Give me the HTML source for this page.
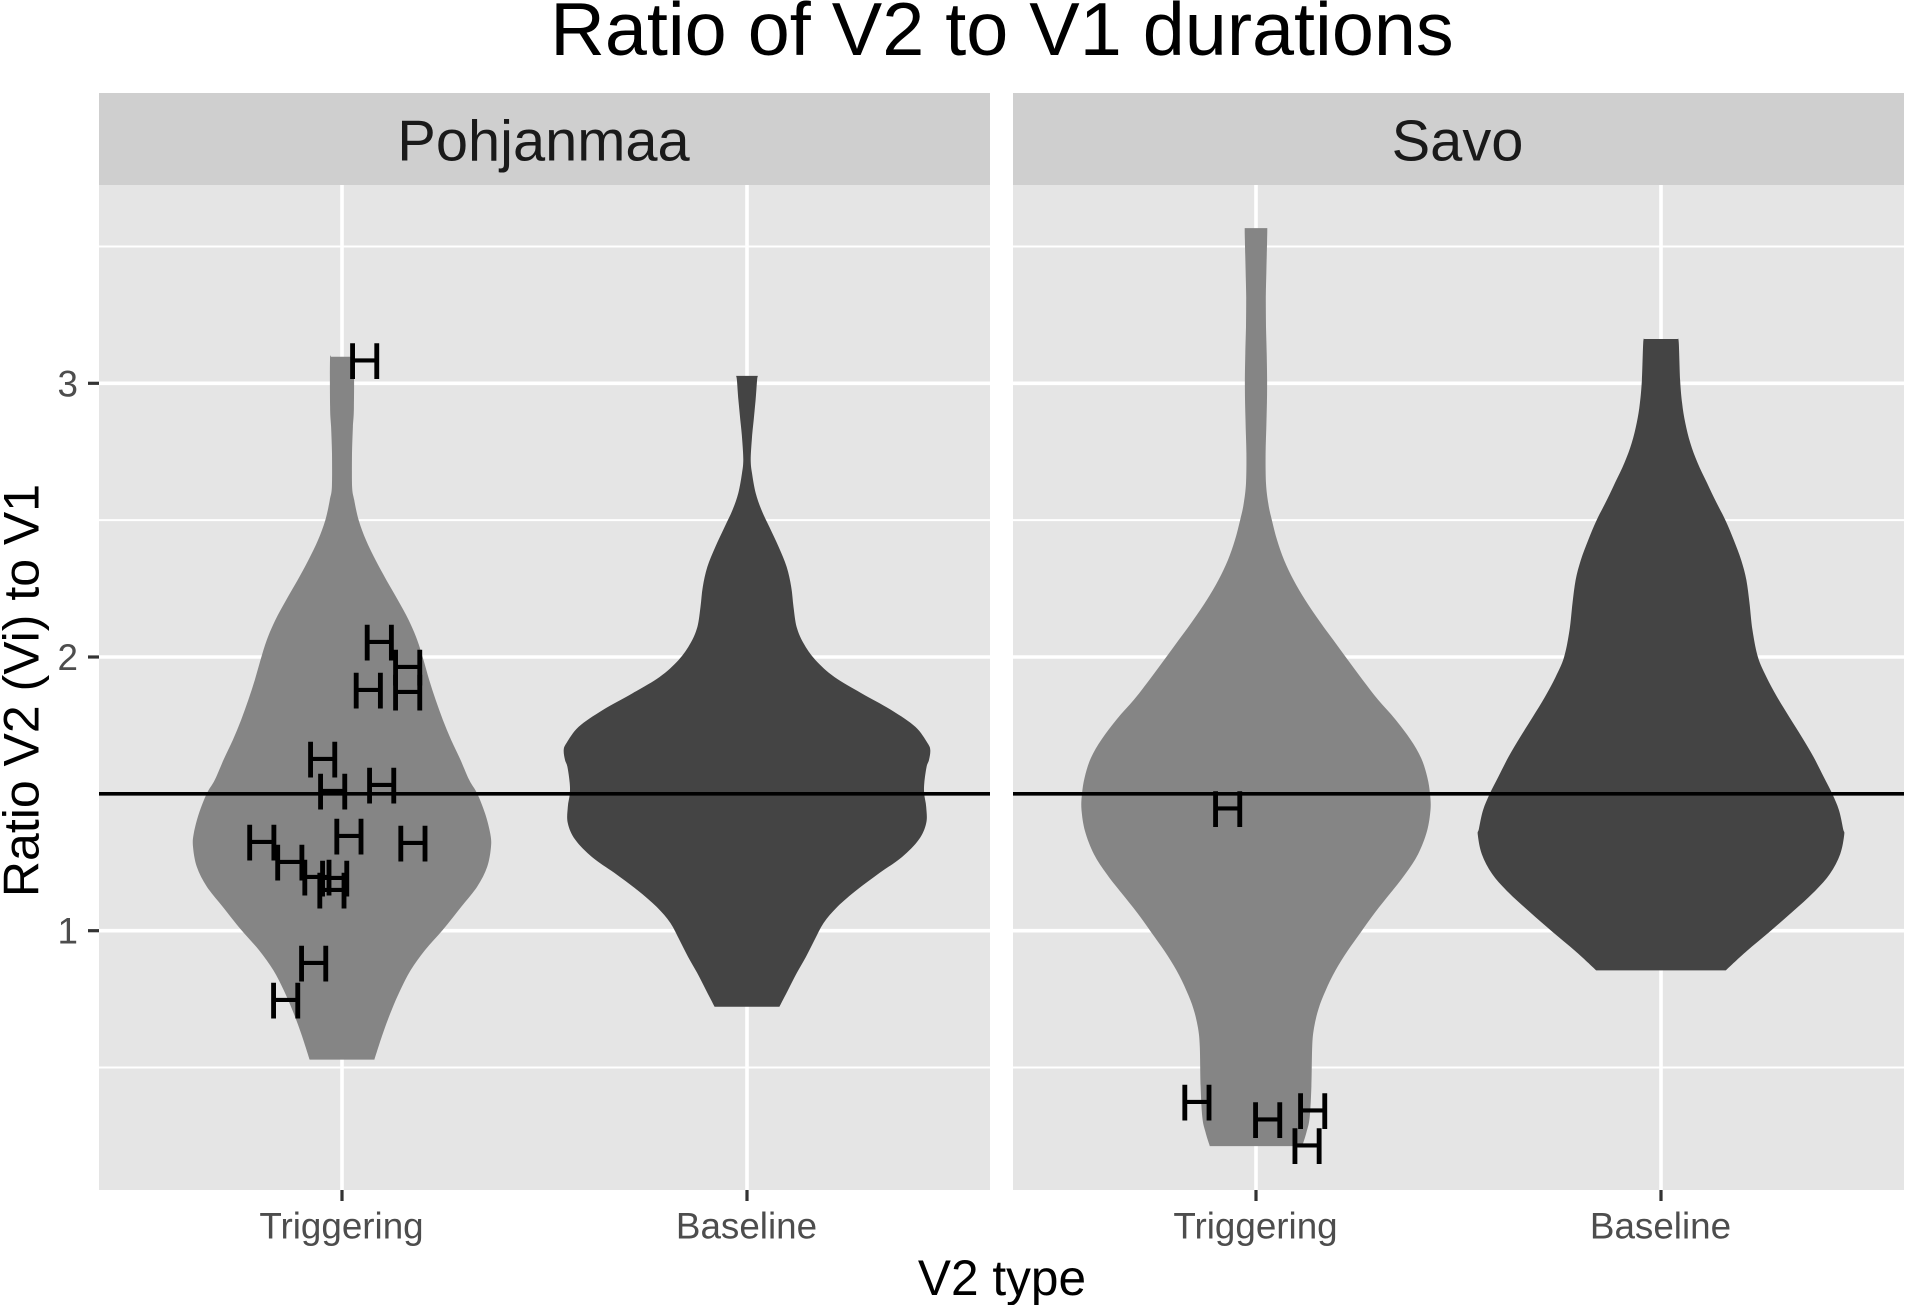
<!DOCTYPE html>
<html lang="en">
<head>
<meta charset="utf-8">
<title>Ratio of V2 to V1 durations</title>
<style>
html,body{margin:0;padding:0;background:#fff;}
svg{display:block;font-family:"Liberation Sans",Arial,sans-serif;}
</style>
</head>
<body>
<svg id="chart" xmlns="http://www.w3.org/2000/svg" width="1905" height="1305" viewBox="0 0 1905 1305">
  <text x="1002" y="55" font-size="75.6" text-anchor="middle" fill="#000">Ratio of V2 to V1 durations</text>
  <text x="1002" y="1295" font-size="49.6" text-anchor="middle" fill="#000">V2 type</text>
  <text transform="translate(38.5 690.5) rotate(-90)" font-size="50" text-anchor="middle" fill="#000">Ratio V2 (Vi) to V1</text>
</svg>
<script>
const facets = ['Pohjanmaa', 'Savo'];
const categories = ['Triggering', 'Baseline'];
const yTickLabels = [1, 2, 3];
const yMinorBreaks = [0.5, 1.5, 2.5, 3.5];
const referenceLine = 1.5;

const pohjanmaaTriggeringY = [3.097,3.085,2.914,2.841,2.744,2.622,2.574,2.5,2.427,2.354,2.281,2.208,2.135,2.062,1.989,1.916,1.843,1.77,1.697,1.624,1.551,1.502,1.429,1.356,1.307,1.234,1.161,1.088,1.003,0.929,0.856,0.783,0.71,0.626,0.529];
const pohjanmaaTriggeringW = [0.027,0.031,0.03,0.027,0.024,0.024,0.028,0.04,0.057,0.083,0.109,0.138,0.167,0.187,0.202,0.214,0.231,0.249,0.268,0.293,0.316,0.331,0.356,0.369,0.37,0.363,0.338,0.296,0.249,0.202,0.167,0.143,0.123,0.101,0.08];

const pohjanmaaBaselineY = [3.027,3.012,2.939,2.866,2.793,2.72,2.672,2.599,2.537,2.475,2.402,2.329,2.256,2.183,2.11,2.051,1.989,1.927,1.868,1.806,1.745,1.686,1.66,1.624,1.599,1.54,1.5,1.452,1.393,1.332,1.269,1.211,1.149,1.087,1.028,0.966,0.905,0.846,0.783,0.722];
const pohjanmaaBaselineW = [0.027,0.026,0.021,0.017,0.011,0.008,0.01,0.021,0.034,0.054,0.079,0.101,0.111,0.114,0.12,0.136,0.165,0.21,0.278,0.362,0.424,0.452,0.454,0.45,0.444,0.436,0.435,0.444,0.447,0.432,0.385,0.328,0.269,0.219,0.185,0.168,0.146,0.123,0.101,0.08];

const savoTriggeringY = [3.567,3.523,3.414,3.315,3.206,3.109,2.987,2.866,2.744,2.634,2.561,2.5,2.427,2.354,2.281,2.208,2.135,2.062,1.989,1.916,1.843,1.774,1.7,1.631,1.561,1.5,1.441,1.364,1.28,1.207,1.138,1.068,0.995,0.926,0.855,0.782,0.714,0.645,0.576,0.433,0.319,0.264,0.213];
const savoTriggeringW = [0.028,0.028,0.026,0.023,0.025,0.026,0.029,0.026,0.023,0.023,0.03,0.038,0.051,0.068,0.091,0.121,0.154,0.191,0.227,0.263,0.301,0.343,0.385,0.41,0.426,0.43,0.433,0.427,0.402,0.37,0.333,0.293,0.259,0.225,0.195,0.17,0.153,0.141,0.138,0.138,0.133,0.126,0.114];

const savoBaselineY = [3.162,3.147,3.012,2.928,2.855,2.782,2.709,2.636,2.563,2.5,2.427,2.354,2.281,2.197,2.098,2.0,1.927,1.854,1.781,1.708,1.635,1.562,1.5,1.441,1.372,1.35,1.28,1.207,1.138,1.068,0.995,0.926,0.855];
const savoBaselineW = [0.041,0.044,0.047,0.051,0.059,0.071,0.088,0.114,0.138,0.159,0.18,0.2,0.212,0.219,0.224,0.237,0.259,0.286,0.316,0.348,0.378,0.402,0.425,0.44,0.452,0.455,0.447,0.421,0.378,0.325,0.267,0.21,0.16];

const pohjanmaaLabelX = [1.056,1.092,1.162,1.065,1.162,0.952,0.977,1.098,1.017,0.802,1.175,0.871,0.938,0.982,0.975,0.93,0.861];
const pohjanmaaLabelY = [3.083,2.054,1.963,1.879,1.872,1.626,1.51,1.532,1.346,1.323,1.319,1.25,1.195,1.191,1.148,0.881,0.746];
const savoLabelX = [0.93,0.854,1.029,1.14,1.126];
const savoLabelY = [1.446,0.373,0.309,0.342,0.215];

const NS = 'http://www.w3.org/2000/svg';
const svg = document.getElementById('chart');
const panelLeft = [99, 1013];
const panelW = 891;
const plotTop = 185, plotBottom = 1190, stripTop = 93;
const xUnit = panelW / 2.2;
const yUnit = 273.7;
function xScale(panel, c) { return panelLeft[panel] + panelW * 0.6 / 2.2 + (c - 1) * xUnit; }
function yScale(v) { return 930.7 - (v - 1) * yUnit; }
function make(tag, attrs, parent) {
  const el = document.createElementNS(NS, tag);
  for (const k in attrs) el.setAttribute(k, attrs[k]);
  (parent || svg).appendChild(el);
  return el;
}
// Light smoothing of the traced outline so the curve reads like a density estimate.
function soften(ws) {
  return ws.map((w, i) => (i === 0 || i === ws.length - 1) ? w : (ws[i - 1] + 2 * w + ws[i + 1]) / 4);
}
function sidePath(pts) {
  let d = '';
  for (let i = 0; i < pts.length - 1; i++) {
    const p0 = pts[Math.max(i - 1, 0)], p1 = pts[i], p2 = pts[i + 1], p3 = pts[Math.min(i + 2, pts.length - 1)];
    const c1x = p1[0] + (p2[0] - p0[0]) / 6, c1y = p1[1] + (p2[1] - p0[1]) / 6;
    const c2x = p2[0] - (p3[0] - p1[0]) / 6, c2y = p2[1] - (p3[1] - p1[1]) / 6;
    d += 'C' + c1x.toFixed(1) + ' ' + c1y.toFixed(1) + ' ' + c2x.toFixed(1) + ' ' + c2y.toFixed(1) + ' ' + p2[0].toFixed(1) + ' ' + p2[1].toFixed(1);
  }
  return d;
}
function drawViolin(panel, cat, ys, ws, color, name) {
  const sw = soften(ws);
  const left = ys.map((v, i) => [xScale(panel, cat - sw[i]), yScale(v)]);
  const right = ys.map((v, i) => [xScale(panel, cat + sw[i]), yScale(v)]).reverse();
  const d = 'M' + left[0][0].toFixed(1) + ' ' + left[0][1].toFixed(1) + sidePath(left) +
    'L' + right[0][0].toFixed(1) + ' ' + right[0][1].toFixed(1) + sidePath(right) + 'Z';
  const el = make('path', { d: d, fill: color });
  
  
}
function drawLabels(panel, xs, ys) {
  xs.forEach((c, i) => {
    const t = make('text', { x: xScale(panel, c).toFixed(1), y: (yScale(ys[i]) + 18.3).toFixed(1), 'font-size': 52, 'text-anchor': 'middle', fill: '#000' });
    
    
    t.textContent = 'H';
  });
}

facets.forEach((facet, p) => {
  const L = panelLeft[p], R = L + panelW;
  const strip = make('rect', { x: L, y: stripTop, width: panelW, height: plotTop - stripTop, fill: '#cfcfcf' });
  
  
  const stripText = make('text', { x: L + panelW / 2 - 1, y: 160.5, 'font-size': 57.8, 'text-anchor': 'middle', fill: '#1a1a1a' });
  
  
  stripText.textContent = facet;
  const bg = make('rect', { x: L, y: plotTop, width: panelW, height: plotBottom - plotTop, fill: '#e5e5e5' });
  
  
  yMinorBreaks.forEach(v => {
    const g = make('line', { x1: L, x2: R, y1: yScale(v), y2: yScale(v), stroke: '#fff', 'stroke-width': 2 });
    
    
  });
  yTickLabels.forEach(v => {
    const g = make('line', { x1: L, x2: R, y1: yScale(v), y2: yScale(v), stroke: '#fff', 'stroke-width': 3.6 });
    
    
  });
  categories.forEach((cat, i) => {
    const X = xScale(p, i + 1);
    const g = make('line', { x1: X, x2: X, y1: plotTop, y2: plotBottom, stroke: '#fff', 'stroke-width': 3.6 });
    
    
    const tick = make('line', { x1: X, x2: X, y1: plotBottom, y2: plotBottom + 11, stroke: '#333', 'stroke-width': 3.2 });
    
    
    const lab = make('text', { x: X - 0.5, y: 1238.5, 'font-size': 36.8, 'text-anchor': 'middle', fill: '#4d4d4d' });
    
    
    lab.textContent = cat;
  });
});

yTickLabels.forEach(v => {
  const tick = make('line', { x1: 88, x2: 99, y1: yScale(v), y2: yScale(v), stroke: '#333', 'stroke-width': 3.2 });
  
  
  const lab = make('text', { x: 78, y: yScale(v) + 13, 'font-size': 36.8, 'text-anchor': 'end', fill: '#4d4d4d' });
  
  
  lab.textContent = v;
});

drawViolin(0, 1, pohjanmaaTriggeringY, pohjanmaaTriggeringW, '#858585', 'violin-pohjanmaa-triggering');
drawViolin(0, 2, pohjanmaaBaselineY, pohjanmaaBaselineW, '#444444', 'violin-pohjanmaa-baseline');
drawViolin(1, 1, savoTriggeringY, savoTriggeringW, '#858585', 'violin-savo-triggering');
drawViolin(1, 2, savoBaselineY, savoBaselineW, '#444444', 'violin-savo-baseline');

facets.forEach((facet, p) => {
  const line = make('line', { x1: panelLeft[p], x2: panelLeft[p] + panelW, y1: yScale(referenceLine), y2: yScale(referenceLine), stroke: '#000', 'stroke-width': 3.6 });
  
  
});

drawLabels(0, pohjanmaaLabelX, pohjanmaaLabelY);
drawLabels(1, savoLabelX, savoLabelY);
</script>
</body>
</html>
